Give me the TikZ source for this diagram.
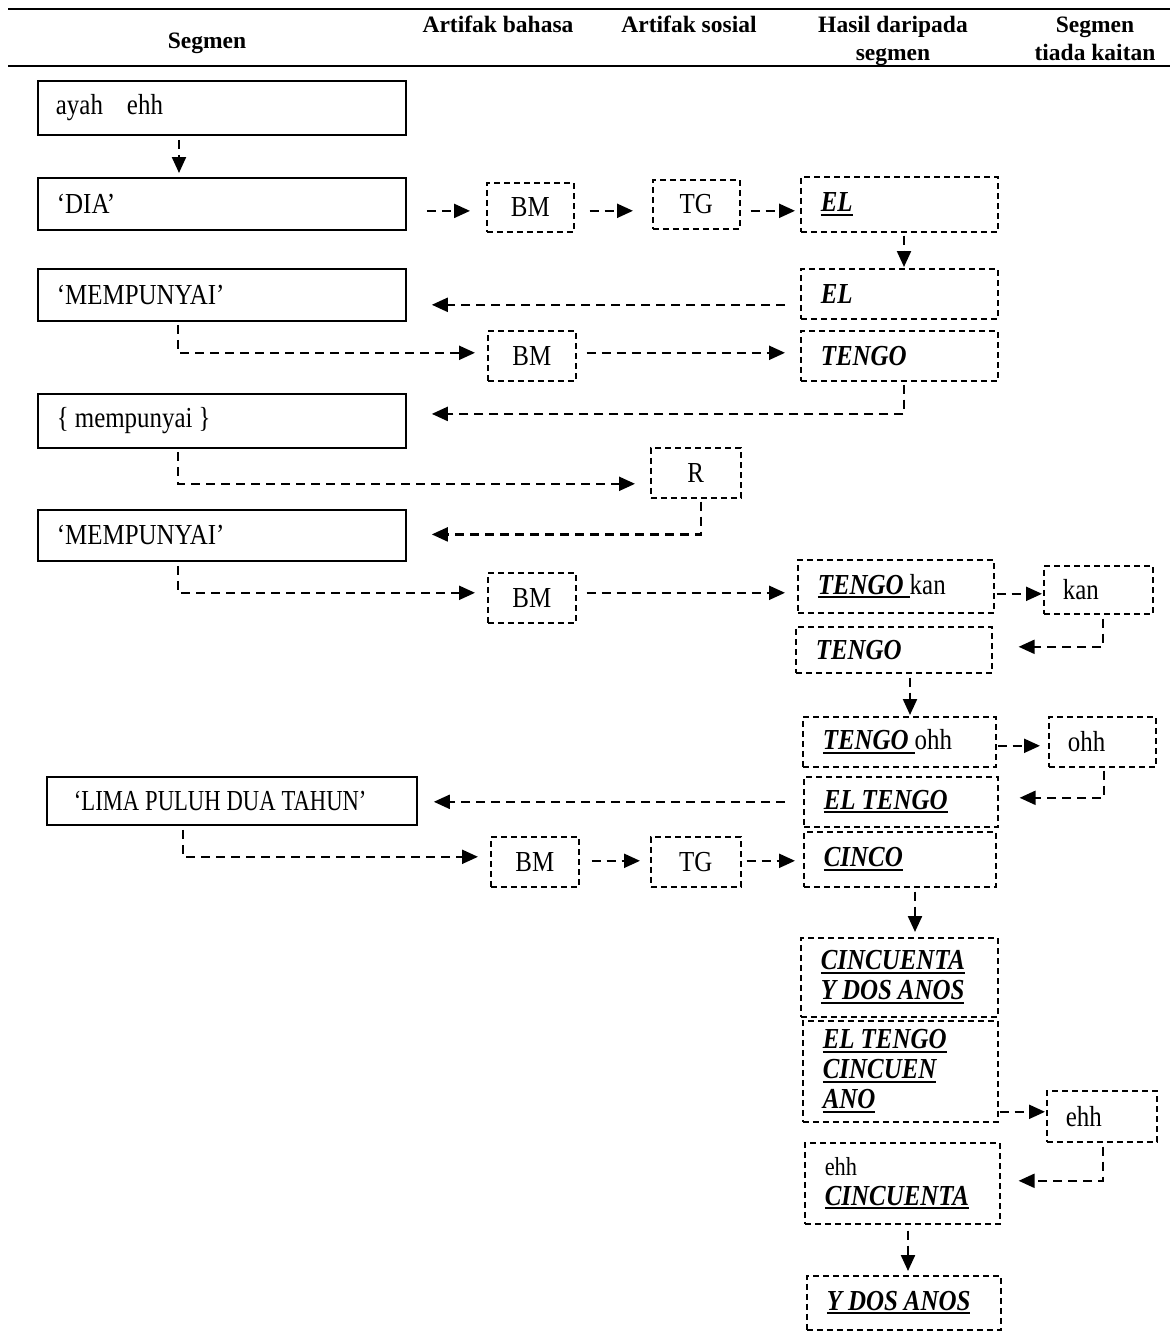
\documentclass[tikz,border=0pt]{standalone}
\usepackage{fontspec}
\setmainfont{Liberation Serif}
\newfontfamily\figfont[FakeStretch=0.86]{Liberation Serif}
\newfontfamily\narrowfont[FakeStretch=0.78]{Liberation Serif}
\usetikzlibrary{arrows.meta,calc}

% body type: slightly narrowed serif
\newcommand\figsize{\figfont\fontsize{29}{30}\selectfont}
% thick underline drawn under a word
\newcommand\ulb[1]{\leavevmode\sbox0{#1}\rlap{\rule[-4pt]{\wd0}{2.2pt}}\usebox0}
\newcommand\bi[1]{{\bfseries\itshape #1}}
% box from its corners: style, name, x1, y1, x2, y2, left padding, text
\newcommand\mkbox[8]{%
  \pgfmathsetmacro\bxw{#5-#3}%
  \pgfmathsetmacro\bxh{#6-#4}%
  \pgfmathsetmacro\bxt{#5-#3-2*#7}%
  \node[#1, minimum width=\bxw pt, minimum height=\bxh pt, text width=\bxt pt,
        inner xsep=#7pt, inner ysep=0pt, anchor=north west] (#2) at (#3,#4)
        {\spaceskip 6pt\relax #8};}

\begin{document}
\begin{tikzpicture}[x=1pt,y=-1pt,
  bodyfont/.style={font=\figsize},
  solidbox/.style={draw, line width=1.8pt, align=left, bodyfont},
  dashbox/.style={draw, line width=1.6pt, dash pattern=on 6pt off 4pt, align=left, bodyfont},
  midbox/.style={dashbox, align=center},
  arr/.style={line width=2.2pt, dash pattern=on 9pt off 6pt, -{Triangle[length=16pt,width=14pt]}},
  rulestyle/.style={line width=2.2pt},
  head/.style={font=\bfseries\fontsize{23.5}{28}\selectfont, anchor=base, inner sep=0pt}
]
\useasboundingbox (0,0) rectangle (1170,1331);

% table header
\draw[rulestyle] (8,9) -- (1170,9);
\draw[rulestyle] (8,66) -- (1170,66);
\node[head] (hseg) at (207,48) {Segmen};
\node[head] (hab) at (498,32) {Artifak bahasa};
\node[head] (has) at (689,32) {Artifak sosial};
\node[head] (hhd1) at (893,32) {Hasil daripada};
\node[head] (hhd2) at (893,60) {segmen};
\node[head] (hst1) at (1095,32) {Segmen};
\node[head] (hst2) at (1095,60) {tiada kaitan};

% segments
\mkbox{solidbox}{ayah}{37}{80}{405}{134}{18}{ayah\hspace{24pt}ehh}
\mkbox{solidbox}{dia}{37}{177}{405}{229}{19}{‘DIA’}
\mkbox{solidbox}{memA}{37}{268}{405}{320}{19}{‘MEMPUNYAI’}
\mkbox{solidbox}{mpy}{37}{393}{405}{447}{19}{\{ mempunyai \}}
\mkbox{solidbox}{memB}{37}{509}{405}{560}{19}{‘MEMPUNYAI’}
\mkbox{solidbox}{lima}{46}{776}{416}{824}{27}{\narrowfont ‘LIMA PULUH DUA TAHUN’}

% artefacts and results
\mkbox{midbox}{bmA}{486}{182}{573}{231}{0}{BM}
\mkbox{midbox}{tgA}{652}{179}{739}{228}{0}{TG}
\mkbox{dashbox}{elA}{800}{176}{997}{231}{20}{\ulb{\bi{EL}}}
\mkbox{dashbox}{elB}{800}{268}{997}{318}{20}{\bi{EL}}
\mkbox{midbox}{bmB}{487}{330}{575}{380}{0}{BM}
\mkbox{dashbox}{tgoA}{800}{330}{997}{380}{20}{\bi{TENGO}}
\mkbox{midbox}{rr}{650}{447}{740}{497}{0}{R}
\mkbox{midbox}{bmC}{487}{572}{575}{622}{0}{BM}
\mkbox{dashbox}{tgoKan}{797}{559}{993}{612}{20}{\ulb{\bi{TENGO }}kan}
\mkbox{dashbox}{kan}{1043}{565}{1152}{613}{19}{kan}
\mkbox{dashbox}{tgoB}{795}{626}{991}{672}{20}{\bi{TENGO}}
\mkbox{dashbox}{tgoOhh}{802}{716}{995}{766}{20}{\ulb{\bi{TENGO }}ohh}
\mkbox{dashbox}{ohh}{1048}{716}{1155}{766}{19}{ohh}
\mkbox{dashbox}{elTgo}{803}{776}{997}{826}{20}{\ulb{\bi{EL TENGO}}}
\mkbox{midbox}{bmD}{490}{836}{578}{886}{0}{BM}
\mkbox{midbox}{tgB}{650}{836}{740}{886}{0}{TG}
\mkbox{dashbox}{cinco}{803}{831}{995}{886}{20}{\ulb{\bi{CINCO}}}
\mkbox{dashbox}{cdos}{800}{937}{997}{1016}{20}{\ulb{\bi{CINCUENTA}}\\\ulb{\bi{Y DOS ANOS}}}
\mkbox{dashbox}{elCin}{802}{1020}{997}{1121}{20}{\ulb{\bi{EL TENGO}}\\\ulb{\bi{CINCUEN}}\\\ulb{\bi{ANO}}}
\mkbox{dashbox}{ehh}{1046}{1090}{1156}{1141}{19}{ehh}
\mkbox{dashbox}{ehhCin}{804}{1142}{999}{1223}{20}{{\fontsize{26}{28}\selectfont ehh}\\\ulb{\bi{CINCUENTA}}}
\mkbox{dashbox}{ydos}{806}{1275}{1000}{1329}{20}{\ulb{\bi{Y DOS ANOS}}}

% vertical drop points
\coordinate (v1) at ($(ayah.south west)+(142,0)$);
\coordinate (v2) at ($(elA.south west)+(104,0)$);
\coordinate (v3) at ($(tgoB.south west)+(115,0)$);
\coordinate (v4) at ($(cinco.south west)+(112,0)$);
\coordinate (v5) at ($(ehhCin.south west)+(104,0)$);

% connectors
\draw[arr, shorten <=4pt, shorten >=4pt] (v1) -- (v1 |- dia.north);
\draw[arr, shorten <=20pt, shorten >=16pt] ($(dia.east)+(0,7)$) -- ($(dia.east -| bmA.west)+(0,7)$);
\draw[arr, shorten <=15pt, shorten >=19pt] ($(bmA.east)+(0,3.5)$) -- ($(bmA.east -| tgA.west)+(0,3.5)$);
\draw[arr, shorten <=10pt, shorten >=5pt] ($(tgA.east)+(0,6.5)$) -- ($(tgA.east -| elA.west)+(0,6.5)$);
\draw[arr, shorten <=3pt, shorten >=1pt] (v2) -- (v2 |- elB.north);
\draw[arr, shorten <=15pt, shorten >=25pt] ($(elB.west)+(0,11)$) -- ($(elB.west -| memA.east)+(0,11)$);
\draw[arr, shorten <=3pt, shorten >=12pt] ($(memA.south west)+(141,0)$) |- ($(bmB.west)+(0,-3)$);
\draw[arr, shorten <=10pt, shorten >=15pt] ($(bmB.east)+(0,-3)$) -- ($(bmB.east -| tgoA.west)+(0,-3)$);
\draw[arr, shorten <=3pt, shorten >=25pt] ($(tgoA.south west)+(104,0)$) |- ($(mpy.east)+(0,-7)$);
\draw[arr, shorten <=3pt, shorten >=15pt] ($(mpy.south west)+(141,0)$) |- ($(rr.west)+(0,11)$);
\draw[arr, shorten <=3pt, shorten >=25pt] ($(rr.south west)+(51,0)$) |- ($(memB.east)+(0,-1)$);
\draw[arr, shorten <=4pt, shorten >=12pt] ($(memB.south west)+(141,0)$) |- ($(bmC.west)+(0,-5)$);
\draw[arr, shorten <=10pt, shorten >=12pt] ($(bmC.east)+(0,-5)$) -- ($(bmC.east -| tgoKan.west)+(0,-5)$);
\draw[arr, shorten <=2pt, shorten >=1pt] ($(tgoKan.east)+(0,7.5)$) -- ($(tgoKan.east -| kan.west)+(0,7.5)$);
\draw[arr, shorten <=4pt, shorten >=26pt] ($(kan.south west)+(60,0)$) |- ($(tgoB.east)+(0,-3)$);
\draw[arr, shorten <=4pt, shorten >=1pt] (v3) -- (v3 |- tgoOhh.north);
\draw[arr, shorten <=1pt, shorten >=8pt] ($(tgoOhh.east)+(0,4)$) -- ($(tgoOhh.east -| ohh.west)+(0,4)$);
\draw[arr, shorten <=3pt, shorten >=21pt] ($(ohh.south west)+(56,0)$) |- ($(elTgo.east)+(0,-4)$);
\draw[arr, shorten <=18pt, shorten >=16pt] (elTgo.west) -- (elTgo.west -| lima.east);
\draw[arr, shorten <=4pt, shorten >=12pt] ($(lima.south west)+(137,0)$) |- ($(bmD.west)+(0,-5)$);
\draw[arr, shorten <=12pt, shorten >=10pt] ($(bmD.east)+(0,-1)$) -- ($(bmD.east -| tgB.west)+(0,-1)$);
\draw[arr, shorten <=5pt, shorten >=8pt] ($(tgB.east)+(0,-1)$) -- ($(tgB.east -| cinco.west)+(0,-1)$);
\draw[arr, shorten <=4pt, shorten >=5pt] (v4) -- (v4 |- cdos.north);
\draw[arr, shorten <=1pt, shorten >=1pt] ($(elCin.east |- ehh.west)+(0,-4.5)$) -- ($(ehh.west)+(0,-4.5)$);
\draw[arr, shorten <=4pt, shorten >=18pt] ($(ehh.south west)+(57,0)$) |- ($(ehhCin.east)+(0,-2.5)$);
\draw[arr, shorten <=6pt, shorten >=4pt] (v5) -- (v5 |- ydos.north);
\end{tikzpicture}
\end{document}
